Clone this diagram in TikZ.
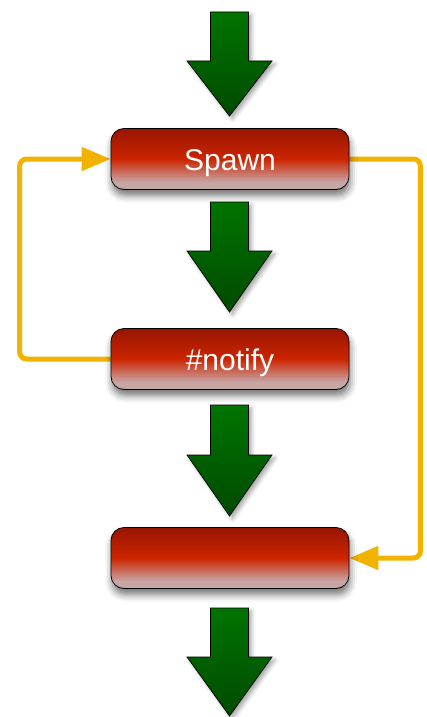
\documentclass[tikz,border=0pt]{standalone}
\usepackage{fontspec}
\setmainfont{Liberation Sans}
\usetikzlibrary{arrows.meta,shadows.blur}

\definecolor{boxdark}{HTML}{981500}
\definecolor{boxred}{HTML}{CC2400}
\definecolor{boxlow}{HTML}{C8A6A6}
\definecolor{gtop}{HTML}{007400}
\definecolor{gbot}{HTML}{004A00}
\definecolor{loopgold}{HTML}{F2B200}

% glossy red fill: dark at the top, bright in the middle, pale at the bottom
\pgfdeclareverticalshading{redbox}{100bp}{%
  color(0bp)=(boxlow); color(25bp)=(boxlow); color(31bp)=(boxlow);
  color(50bp)=(boxred); color(75bp)=(boxdark); color(100bp)=(boxdark)}

\pgfdeclarelayer{bg}
\pgfsetlayers{bg,main}

\tikzset{
  stage/.style={draw=black, line width=0.8pt, rounded corners=13pt,
    minimum width=238pt, minimum height=61pt, inner sep=0pt,
    text height=22pt, text depth=0pt,
    shade, shading=redbox, text=white,
    font=\fontsize{30}{35}\selectfont,
    blur shadow={shadow xshift=1pt, shadow yshift=-6pt,
      shadow blur radius=7pt, shadow opacity=55}},
  flow/.style={draw=black, line width=0.7pt, top color=gtop, bottom color=gbot,
    blur shadow={shadow xshift=3pt, shadow yshift=-3pt,
      shadow blur radius=4pt, shadow opacity=35}},
  feedback/.style={draw=loopgold, line width=5pt, rounded corners=7pt,
    -{Triangle[length=29pt,width=23pt]}},
}

% block arrow pointing down: centre x, top of shaft, base of head, tip
\newcommand\flowarrow[4]{%
  \path[flow] (#1-19,#2) -- (#1+19,#2) -- (#1+19,#3) -- (#1+42.5,#3)
    -- (#1,#4) -- (#1-42.5,#3) -- (#1-19,#3) -- cycle;}

\begin{document}
\begin{tikzpicture}[x=1pt,y=-1pt]
  \useasboundingbox (0,0) rectangle (427,717);

  % stages
  \node[stage] (spawn)  at (230,159) {Spawn};
  \node[stage] (notify) at (230,359) {\#notify};
  \node[stage] (sink)   at (230,558) {};

  % main flow
  \flowarrow{229.5}{12}{61}{116}
  \flowarrow{229.5}{202}{251}{312}
  \flowarrow{229.5}{405}{455}{516}
  \flowarrow{229.5}{608}{657}{716}

  % loops back and forward
  \begin{pgfonlayer}{bg}
    \draw[feedback] (notify.west) -- ++(-91,0) |- (spawn.west);
    \draw[feedback] (spawn.east) -- ++(71,0) |- (sink.east);
  \end{pgfonlayer}
\end{tikzpicture}
\end{document}
